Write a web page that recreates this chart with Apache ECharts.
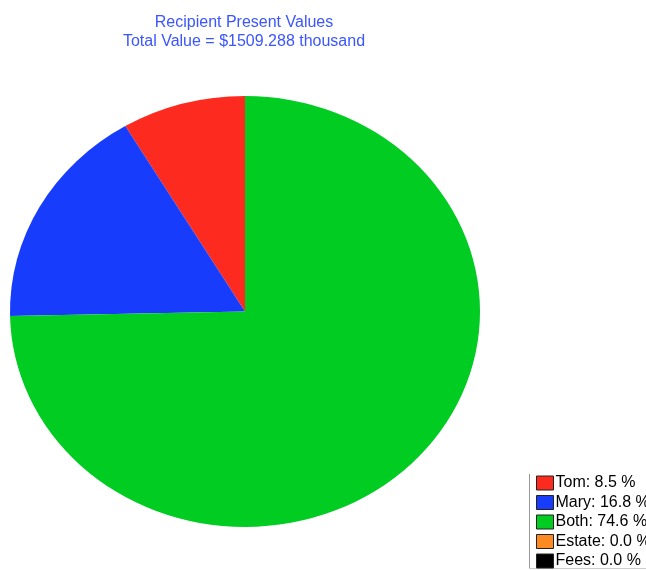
<!DOCTYPE html>
<html>
<head>
<meta charset="utf-8">
<script src="https://cdn.jsdelivr.net/npm/echarts@6/dist/echarts.min.js"></script>
<style>
  html, body { margin: 0; padding: 0; background: #fff; overflow: hidden; }
  #chart { width: 700px; height: 620px; }
</style>
</head>
<body>
<div id="chart"></div>
<script>
// Recipient shares of the total present value (percent)
const recipients = ['Tom', 'Mary', 'Both', 'Estate', 'Fees'];
const shares = [8.5, 16.8, 74.6, 0.0, 0.0];
const sliceColors = ['#fd2a1f', '#173cfb', '#00cc22', '#fb8a22', '#000000'];
const totalValue = '1509.288';

const total = shares.reduce((a, b) => a + b, 0);
const cumulative = shares.map((_, i) => shares.slice(0, i).reduce((a, b) => a + b, 0));

// Elliptical pie geometry
const pieCx = 245, pieCy = 311.5, pieRx = 235, pieRy = 215.5;

const chart = echarts.init(document.getElementById('chart'), null, { renderer: 'canvas' });

// One custom series per recipient so the legend lists them by name.
const series = recipients.map((name, i) => ({
  name: name,
  type: 'custom',
  coordinateSystem: 'none',
  color: sliceColors[i],
  data: [[shares[i]]],
  renderItem: function (params, api) {
    const v = api.value(0);
    if (!(v > 0)) return null;
    // slices run counter-clockwise from twelve o'clock
    const a0 = -Math.PI / 2 - 2 * Math.PI * cumulative[i] / total;
    const a1 = -Math.PI / 2 - 2 * Math.PI * (cumulative[i] + v) / total;
    return {
      type: 'sector',
      shape: { cx: pieCx, cy: pieCy, r: pieRx, r0: 0, startAngle: a1, endAngle: a0, clockwise: true },
      originX: pieCx,
      originY: pieCy,
      scaleY: pieRy / pieRx,
      style: { fill: api.visual('color'), stroke: null }
    };
  }
}));

chart.setOption({
  backgroundColor: '#ffffff',
  animation: false,
  title: {
    text: 'Recipient Present Values\nTotal Value = $' + totalValue + ' thousand',
    left: 239,
    textAlign: 'center',
    top: 8,
    textStyle: {
      color: '#3b55ff',
      fontFamily: 'Liberation Sans, Arial, sans-serif',
      fontSize: 16,
      fontWeight: 'normal',
      lineHeight: 19
    }
  },
  legend: {
    orient: 'vertical',
    left: 529,
    top: 472,
    padding: [3, 60, 20, 7],
    itemWidth: 17,
    itemHeight: 14,
    itemGap: 3.5,
    borderWidth: 0,
    icon: 'rect',
    itemStyle: { borderColor: '#222', borderWidth: 1 },
    textStyle: {
      color: '#000',
      fontFamily: 'Liberation Sans, Arial, sans-serif',
      fontSize: 16,
      padding: [0, 0, 0, -3]
    },
    formatter: function (name) {
      const i = recipients.indexOf(name);
      return name + ': ' + shares[i].toFixed(1) + ' %';
    },
    data: recipients
  },
  // legend frame: left edge and bottom edge
  graphic: [
    { type: 'line', shape: { x1: 529.5, y1: 474, x2: 529.5, y2: 569 }, style: { stroke: '#999', lineWidth: 1 } },
    { type: 'line', shape: { x1: 529, y1: 568.5, x2: 646, y2: 568.5 }, style: { stroke: '#ccc', lineWidth: 1 } }
  ],
  series: series
});
</script>
</body>
</html>
